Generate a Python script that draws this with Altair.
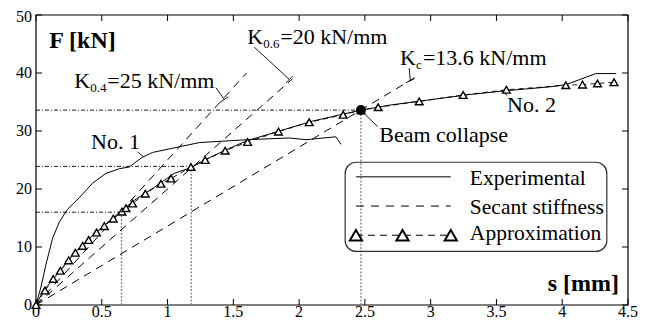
import altair as alt
import pandas as pd

FONT = "Liberation Serif"

# ---------------- data ----------------
x_ticks = [0, 0.5, 1, 1.5, 2, 2.5, 3, 3.5, 4, 4.5]
x_tick_labels = ["0", "0.5", "1", "1.5", "2", "2.5", "3", "3.5", "4", "4.5"]
y_ticks = [0, 10, 20, 30, 40, 50]
y_tick_labels = ["0", "10", "20", "30", "40", "50"]

# Experimental curve No. 1
exp1_s = [0, 0.038, 0.076, 0.126, 0.177, 0.24, 0.329, 0.43, 0.532, 0.633, 0.709,
          0.81, 0.886, 1.241, 1.608, 1.925, 2.052, 2.28, 2.318]
exp1_F = [0, 3.1, 7.0, 11.5, 14.3, 16.5, 18.5, 21.0, 22.7, 23.5, 23.8,
          25.5, 26.3, 28.0, 28.5, 28.8, 28.5, 29.0, 27.7]

# Experimental curve No. 2
exp2_s = [0, 0.05, 0.15, 0.3, 0.45, 0.6, 0.75, 0.9, 1.0, 1.05, 1.18, 1.3, 1.45,
          1.6, 1.85, 2.1, 2.47, 2.7, 3.0, 3.3, 3.6, 3.9, 4.03, 4.255, 4.41]
exp2_F = [0, 2.2, 5.0, 9.2, 12.4, 15.3, 18.1, 20.3, 21.9, 22.7, 23.7, 25.2, 26.8,
          28.3, 30.0, 31.7, 33.6, 34.5, 35.4, 36.3, 37.0, 37.6, 38.0, 39.9, 39.9]

# Approximation (markers)
approx_s = [0, 0.068, 0.131, 0.185, 0.248, 0.299, 0.354, 0.40, 0.46, 0.519, 0.587,
            0.653, 0.684, 0.734, 0.831, 0.95, 1.026, 1.178, 1.286, 1.438, 1.608,
            1.843, 2.077, 2.335, 2.47, 2.601, 2.913, 3.247, 3.576, 4.027, 4.154,
            4.268, 4.394]
approx_F = [0, 2.5, 4.5, 5.9, 7.7, 9.0, 10.2, 11.2, 12.5, 13.6, 14.9,
            16.1, 16.7, 17.5, 19.2, 20.9, 21.8, 23.8, 25.0, 26.6, 28.1,
            29.9, 31.5, 32.8, 33.6, 34.1, 35.1, 36.2, 37.1, 37.9, 38.0,
            38.2, 38.4]

# Secant stiffness lines (from the origin to their drawn end)
sec_name = ["K0.4", "K0.6", "Kc"]
sec_end_s = [1.6, 1.95, 2.88]
sec_end_F = [40.0, 39.0, 39.2]

# Reference levels (0.4 Fmax, 0.6 Fmax, collapse)
ref_s = [0.65, 1.18, 2.47]
ref_F = [16.0, 23.9, 33.6]

collapse_s = [2.47]
collapse_F = [33.6]

# Annotations
k_x = [0.291, 1.606, 2.766]
k_y = [37.48, 45.03, 41.39]
k_sub = ["0.4", "0.6", "c"]
k_rest = ["=25 kN/mm", "=20 kN/mm", "=13.6 kN/mm"]

note_text = ["No. 1", "No. 2", "Beam collapse"]
note_x = [0.418, 3.581, 2.609]
note_y = [26.85, 33.29, 28.14]

# leader lines: start/end
lead_x = [1.368, 1.659, 2.837, 0.772, 3.584, 2.596]
lead_y = [37.48, 44.46, 40.84, 26.4, 36.07, 30.77]
lead_x2 = [1.431, 1.925, 2.845, 0.823, 3.534, 2.495]
lead_y2 = [35.44, 38.9, 38.6, 25.45, 37.08, 33.0]
# end bars of the K leaders
bar_x = [1.40, 1.899, 2.812]
bar_y = [34.95, 38.27, 38.32]
bar_x2 = [1.462, 1.951, 2.875]
bar_y2 = [35.92, 39.48, 38.99]

# Legend (data coordinates)
leg_box = dict(x=2.35, x2=4.339, y=24.61, y2=9.23)
leg_labels = ["Experimental", "Secant stiffness", "Approximation"]
leg_text_x = 3.298
leg_text_y = [20.7, 15.67, 11.19]
leg_line_x, leg_line_x2 = 2.432, 3.153
leg_line_y = [22.1, 17.06, 12.03]
leg_tri_x = [2.432, 2.786, 3.153]

W, H = 592, 290
xs = alt.Scale(domain=[0, 4.5], nice=False, zero=False)
ys = alt.Scale(domain=[0, 50], nice=False, zero=False)


def X(f, **kw):
    return alt.X(f, type="quantitative", scale=xs, axis=None, **kw)


def Y(f, **kw):
    return alt.Y(f, type="quantitative", scale=ys, axis=None, **kw)


layers = []

# ---- frame, inward ticks and tick labels ----
frame = alt.Chart(pd.DataFrame({"a": [0]})).mark_rect(
    fill="white", fillOpacity=0, stroke="black", strokeWidth=1.2).encode(
    x=alt.value(0), x2=alt.value(W), y=alt.value(0), y2=alt.value(H))
layers.append(frame)

df_xt = pd.DataFrame({"v": x_ticks, "t": x_tick_labels})
df_yt = pd.DataFrame({"v": y_ticks, "t": y_tick_labels})
bottom_ticks = alt.Chart(df_xt).mark_rule(color="black", strokeWidth=1).encode(
    x=X("v"), y=alt.value(H), y2=alt.value(H - 6))
top_ticks = alt.Chart(df_xt).mark_rule(color="black", strokeWidth=1).encode(
    x=X("v"), y=alt.value(0), y2=alt.value(6))
left_ticks = alt.Chart(df_yt).mark_rule(color="black", strokeWidth=1).encode(
    y=Y("v"), x=alt.value(0), x2=alt.value(6))
right_ticks = alt.Chart(df_yt).mark_rule(color="black", strokeWidth=1).encode(
    y=Y("v"), x=alt.value(W), x2=alt.value(W - 6))
x_labels = alt.Chart(df_xt).mark_text(font=FONT, fontSize=16, color="black",
                                      align="center", baseline="alphabetic").encode(
    x=X("v"), y=alt.value(H + 12), text="t:N")
y_labels = alt.Chart(df_yt.iloc[:-1]).mark_text(font=FONT, fontSize=16, color="black",
                                                align="right", baseline="middle").encode(
    y=Y("v"), x=alt.value(-4), text="t:N")
y_label_top = alt.Chart(df_yt.iloc[-1:]).mark_text(font=FONT, fontSize=16, color="black",
                                                   align="right", baseline="middle",
                                                   dy=2).encode(
    y=Y("v"), x=alt.value(-4), text="t:N")
layers += [bottom_ticks, top_ticks, left_ticks, right_ticks, x_labels, y_labels,
           y_label_top]

# ---- reference lines ----
df_ref = pd.DataFrame({"s": ref_s, "F": ref_F, "z": [0, 0, 0]})
hlines = alt.Chart(df_ref).mark_rule(color="black", strokeWidth=0.9,
                                     strokeDash=[4, 2, 1, 2]).encode(
    x=X("z"), x2="s", y=Y("F"))
vlines = alt.Chart(df_ref).mark_rule(color="#808080", strokeWidth=1.3,
                                     strokeDash=[2, 1.5]).encode(
    x=X("s"), y=Y("z"), y2="F")
layers += [hlines, vlines]

# ---- secant lines ----
df_sec = pd.DataFrame({"s": sec_end_s, "F": sec_end_F, "z": [0, 0, 0]})
secant = alt.Chart(df_sec).mark_rule(color="black", strokeWidth=1,
                                     strokeDash=[8, 6]).encode(
    x=X("z"), y=Y("z"), x2="s", y2="F")
layers.append(secant)

# ---- experimental curves ----
df_e1 = pd.DataFrame({"s": exp1_s, "F": exp1_F, "o": range(len(exp1_s))})
df_e2 = pd.DataFrame({"s": exp2_s, "F": exp2_F, "o": range(len(exp2_s))})
e1 = alt.Chart(df_e1).mark_line(color="black", strokeWidth=1).encode(
    x=X("s"), y=Y("F"), order="o:Q")
e2 = alt.Chart(df_e2).mark_line(color="black", strokeWidth=1).encode(
    x=X("s"), y=Y("F"), order="o:Q")
layers += [e1, e2]

# ---- approximation ----
df_ap = pd.DataFrame({"s": approx_s, "F": approx_F, "o": range(len(approx_s))})
ap_line = alt.Chart(df_ap).mark_line(color="black", strokeWidth=0.9,
                                     strokeDash=[5, 4]).encode(
    x=X("s"), y=Y("F"), order="o:Q")
ap_pts = alt.Chart(df_ap).mark_point(shape="triangle-up", size=60, filled=True,
                                     fill="white", stroke="black",
                                     strokeWidth=1.4, opacity=1).encode(
    x=X("s"), y=Y("F"))
layers += [ap_line, ap_pts]

# ---- collapse point ----
df_col = pd.DataFrame({"s": collapse_s, "F": collapse_F})
col = alt.Chart(df_col).mark_point(shape="circle", size=100, filled=True,
                                   color="black", opacity=1).encode(
    x=X("s"), y=Y("F"))
layers.append(col)

# ---- leaders ----
df_lead = pd.DataFrame({"x": lead_x, "y": lead_y, "x2": lead_x2, "y2": lead_y2})
lead = alt.Chart(df_lead).mark_rule(color="black", strokeWidth=0.9).encode(
    x=X("x"), y=Y("y"), x2="x2", y2="y2")
df_bar = pd.DataFrame({"x": bar_x, "y": bar_y, "x2": bar_x2, "y2": bar_y2})
bars = alt.Chart(df_bar).mark_rule(color="black", strokeWidth=0.9).encode(
    x=X("x"), y=Y("y"), x2="x2", y2="y2")
layers += [lead, bars]

# ---- annotation texts ----
df_k = pd.DataFrame({"x": k_x, "y": k_y, "sub": k_sub, "rest": k_rest})
k_main = alt.Chart(df_k).mark_text(font=FONT, fontSize=22, align="left",
                                   baseline="alphabetic", color="black").encode(
    x=X("x"), y=Y("y"), text=alt.value("K"))
k_subs = alt.Chart(df_k).mark_text(font=FONT, fontSize=13, align="left",
                                   baseline="alphabetic", color="black",
                                   dx=16, dy=4).encode(
    x=X("x"), y=Y("y"), text="sub:N")
k_rest_num = alt.Chart(df_k.iloc[:2]).mark_text(font=FONT, fontSize=22, align="left",
                                                baseline="alphabetic", color="black",
                                                dx=33).encode(
    x=X("x"), y=Y("y"), text="rest:N")
k_rest_c = alt.Chart(df_k.iloc[2:]).mark_text(font=FONT, fontSize=22, align="left",
                                              baseline="alphabetic", color="black",
                                              dx=23).encode(
    x=X("x"), y=Y("y"), text="rest:N")
layers += [k_main, k_subs, k_rest_num, k_rest_c]

df_note = pd.DataFrame({"x": note_x, "y": note_y, "t": note_text})
notes = alt.Chart(df_note).mark_text(font=FONT, fontSize=22, align="left",
                                     baseline="alphabetic", color="black").encode(
    x=X("x"), y=Y("y"), text="t:N")
layers.append(notes)

df_titles = pd.DataFrame({"x": [0.101, 4.432], "y": [44.3, 2.42],
                          "t": ["F [kN]", "s [mm]"]})
t_f = alt.Chart(df_titles.iloc[:1]).mark_text(font=FONT, fontSize=24, fontWeight="bold",
                                              align="left", baseline="alphabetic",
                                              color="black").encode(
    x=X("x"), y=Y("y"), text="t:N")
t_s = alt.Chart(df_titles.iloc[1:]).mark_text(font=FONT, fontSize=24, fontWeight="bold",
                                              align="right", baseline="alphabetic",
                                              color="black").encode(
    x=X("x"), y=Y("y"), text="t:N")
layers += [t_f, t_s]

# ---- legend ----
df_box = pd.DataFrame([leg_box])
box = alt.Chart(df_box).mark_rect(fill="white", fillOpacity=0, stroke="#333333",
                                  strokeWidth=1.2, cornerRadius=11).encode(
    x=X("x"), x2="x2", y=Y("y"), y2="y2")
df_ll = pd.DataFrame({"x": [leg_line_x] * 3, "x2": [leg_line_x2] * 3,
                      "y": leg_line_y, "k": leg_labels})
leg_exp = alt.Chart(df_ll.iloc[:1]).mark_rule(color="#555555", strokeWidth=1.6).encode(
    x=X("x"), x2="x2", y=Y("y"))
leg_sec = alt.Chart(df_ll.iloc[1:2]).mark_rule(color="black", strokeWidth=1,
                                                strokeDash=[8, 7]).encode(
    x=X("x"), x2="x2", y=Y("y"))
leg_ap = alt.Chart(df_ll.iloc[2:]).mark_rule(color="black", strokeWidth=1,
                                              strokeDash=[7, 5]).encode(
    x=X("x"), x2="x2", y=Y("y"))
df_lt = pd.DataFrame({"x": leg_tri_x, "y": [leg_line_y[2]] * 3})
leg_tri = alt.Chart(df_lt).mark_point(shape="triangle-up", size=150, filled=True,
                                      fill="white", stroke="black", strokeWidth=2,
                                      opacity=1).encode(
    x=X("x"), y=Y("y"))
df_ltxt = pd.DataFrame({"x": [leg_text_x] * 3, "y": leg_text_y, "t": leg_labels})
leg_txt = alt.Chart(df_ltxt).mark_text(font=FONT, fontSize=21.5, align="left",
                                       baseline="alphabetic", color="black").encode(
    x=X("x"), y=Y("y"), text="t:N")
layers += [box, leg_exp, leg_sec, leg_ap, leg_tri, leg_txt]

chart = alt.layer(*layers).properties(
    width=W, height=H,
    autosize=alt.AutoSizeParams(type="none"),
    padding={"left": 28, "top": 7, "right": 12, "bottom": 16},
    background="white",
).configure_view(stroke="transparent")

chart.save("out.html", embed_options={"renderer": "svg", "actions": False})
